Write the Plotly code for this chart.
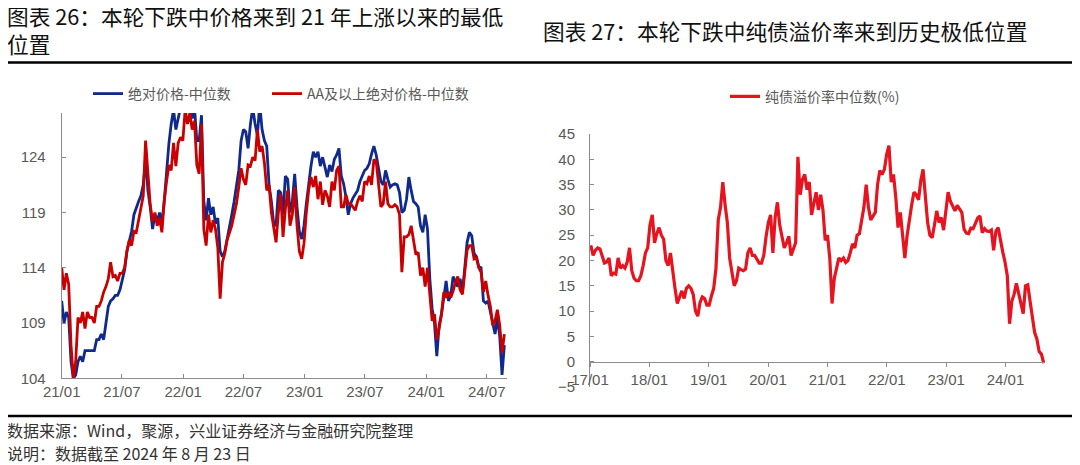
import pandas as pd
import plotly.graph_objects as go

# ---------------- data ----------------
left_dates = pd.date_range("2021-01-01", "2024-08-23", freq="7D")
left_blue_name = "绝对价格-中位数"
left_red_name = "AA及以上绝对价格-中位数"
left_blue = [
    111, 109, 110, 109.5, 105.5, 104, 104.3, 105.5, 106, 105.5,
    106.5, 106.5, 106.5, 106.5, 106.5, 107.5, 107.5, 108, 107.5, 109,
    110.5, 111, 111.2, 111.5, 111.5, 112, 112.8, 113.8, 115.5, 116.5,
    117.3, 118.8, 119.5, 120, 120.5, 121.5, 123.8, 121, 119.5, 117.5,
    118.8, 118.2, 119, 118, 120, 122.8, 125.2, 127, 128.3, 126.5,
    127.5, 128.5, 129, 129.5, 129, 129.5, 127.5, 128.5, 125.5, 125.5,
    127.8, 120, 118.3, 120.3, 118.8, 119.5, 118, 118.5, 115.5, 115,
    115.5, 116.5, 117.8, 118.8, 120, 121.3, 122.8, 125.5, 126.5, 126.3,
    124.8, 127, 128.5, 127, 126, 128.8, 126.5, 125.5, 125, 121.5,
    120, 118, 117.8, 121, 120.8, 118.8, 122.3, 122, 119, 120,
    122.5, 119.5, 117.3, 116.6, 117.8, 119.8, 121.8, 123.2, 124.5, 124,
    124.5, 123.2, 124, 123, 122.2, 123.3, 122.7, 123.8, 124.2, 124.8,
    122.3, 121.6, 120.4, 118.8, 119.8, 120.3, 120.6, 121, 121.8, 122.3,
    122.8, 123, 123.4, 124.3, 125, 124.2, 123, 121.8, 121.5, 122.8,
    122, 121.3, 121.5, 121.6, 121.5, 120.8, 119, 119.2, 120.2, 122.2,
    121, 120, 119.8, 119.5, 117.8, 117.2, 118.8, 117.5, 113, 110.3,
    109, 106, 108.8, 109.8, 111.3, 112.8, 111, 111.5, 113.2, 112.8,
    112.3, 113, 111.8, 114, 116.3, 117.2, 116.9, 115.3, 115, 114.1,
    114, 111, 110.8, 111, 110, 109, 108, 109.5, 107.8, 104.3,
    107,
]
left_red = [
    114, 112, 113.5, 112.5, 107, 104, 105.5, 109.5, 109, 110,
    108.5, 110, 109.5, 109.5, 109, 110.5, 110.5, 111, 111.8, 112.3,
    113, 114.5, 113.2, 113.3, 112.8, 113.5, 113.5, 114, 115.5, 116.5,
    116, 117.3, 117.2, 118.3, 119.5, 120.5, 125.5, 122.5, 119.7, 118.2,
    119, 117.8, 118.5, 117.2, 120, 121.8, 123.3, 122.8, 125.3, 123.2,
    125.3, 125.8, 125.5, 128.3, 127, 128, 126.5, 127.3, 123.3, 122.5,
    127, 117.5, 116, 118.8, 117.2, 118.3, 117.5, 115.8, 111.2, 114.5,
    115.3, 116.5, 117.2, 117.8, 118.8, 119.8, 121.3, 123, 122, 121.5,
    123.3, 123.2, 124, 123.7, 126.5, 124.5, 125, 123.5, 121, 121.5,
    119, 117.5, 116.3, 119, 120.7, 116.8, 119.3, 121, 117.8, 118.8,
    121.3, 117.8, 115.5, 114.8, 116.2, 119, 121, 122.2, 121.3, 122.3,
    120.2, 121.8, 119.7, 121, 120.5, 119.5, 121.8, 121, 122.8, 123.2,
    119.5, 119.5, 120.6, 119.8, 119.8, 119.5, 119.2, 120, 120.5, 120,
    121.8, 121.6, 122.3, 121.5, 123.8, 123.6, 121.5, 119.5, 119.8, 121.8,
    119.8, 119.5, 119.5, 119.7, 119.5, 118.8, 113.6, 116.8, 116.8, 117,
    117.8, 116.5, 115.2, 115.4, 113.3, 114, 112.3, 114, 111.3, 109.2,
    109.8, 107.5, 108.5, 109.8, 111.8, 111.3, 111.8, 111.3, 111.9, 112.7,
    113.2, 112, 111.6, 113.5, 115.6, 116, 116, 114.8, 114.9, 114,
    113.6, 111.8, 112.8, 111.5, 110.5, 108.8, 109.2, 110.2, 108.8, 106.3,
    108,
]
left_tickvals = ["2021-01-01", "2021-07-01", "2022-01-01", "2022-07-01",
                 "2023-01-01", "2023-07-01", "2024-01-01", "2024-07-01"]
left_ticktext = ["21/01", "21/07", "22/01", "22/07", "23/01", "23/07", "24/01", "24/07"]

right_dates = pd.date_range("2017-01-06", "2024-08-23", freq="14D")
right_name = "纯债溢价率中位数(%)"
right_vals = [
    23, 21, 22, 22.5, 22.3, 21, 19.5, 19.7, 20.5, 17,
    17.5, 17.3, 20.5, 18.5, 19, 18.5, 19.7, 22.5, 18, 16.5,
    16, 16, 17, 19, 21.5, 22.5, 27, 29, 23.5, 25.3,
    26.5, 25, 24.2, 20, 19, 21.5, 17.5, 14.5, 11.5, 13,
    14, 12.5, 14.5, 15, 14.5, 13.3, 10, 9, 11.7, 12.8,
    12.5, 11.2, 11.2, 13, 14.5, 18.5, 28, 30.5, 35.5, 31,
    27.5, 20.5, 17.5, 15, 16, 18.5, 18.2, 18, 18.3, 21.5,
    22.5, 21, 21, 20.3, 19.5, 19.5, 21, 24.7, 27.5, 29,
    21.5, 28.5, 31.5, 27, 25, 22.5, 23.5, 24.8, 21, 22.5,
    23.5, 40.5, 33, 36, 37, 34, 35.5, 29, 31, 33.5,
    30, 33, 30, 24, 25, 20.5, 11.5, 16.5, 18.5, 20.5,
    20, 20.5, 19.6, 20, 21.5, 23.3, 22.5, 25, 25.3, 27.7,
    30.5, 35, 30.5, 28, 28.8, 29.5, 35, 37.8, 37, 38,
    41, 42.7, 35.5, 37, 32.5, 26.5, 29.5, 25, 20.5, 25,
    28.5, 31, 33.5, 33, 32, 35.8, 38, 32.5, 27.5, 25,
    24.5, 27, 29.8, 27.5, 28.5, 26, 29.3, 33.5, 31.7, 30.8,
    29.8, 30.9, 30.3, 29.5, 26.2, 25.4, 25.3, 26.4, 26.3, 27.2,
    28.4, 28.8, 25.5, 26.3, 25.8, 25.7, 26, 22, 25.8, 26.5,
    23.7, 21.7, 19.7, 17, 7.5, 12, 13.3, 15.5, 13.5, 11.5,
    9.5, 15, 15.2, 12, 9, 5.8, 4.5, 2, 1.5, -0.3,
]
right_tickvals = ["2017-01-01", "2018-01-01", "2019-01-01", "2020-01-01",
                  "2021-01-01", "2022-01-01", "2023-01-01", "2024-01-01"]
right_ticktext = ["17/01", "18/01", "19/01", "20/01", "21/01", "22/01", "23/01", "24/01"]

title_left = "图表 26：本轮下跌中价格来到 21 年上涨以来的最低<br>位置"
title_right = "图表 27：本轮下跌中纯债溢价率来到历史极低位置"
source_text = "数据来源：Wind，聚源，兴业证券经济与金融研究院整理"
note_text = "说明：数据截至 2024 年 8 月 23 日"

# ---------------- styling ----------------
OFF = 8                     # page body margin of the browser
FW, FH = 1080 - OFF, 465 - OFF
CJK = "Noto Sans CJK SC, sans-serif"
NUM = "Liberation Sans, Arial, sans-serif"
TICK_COLOR = "#595959"
AXIS_COLOR = "#8c8c8c"


def px_x(v):
    return (v - OFF) / FW


def px_y(v):
    return 1 - (v - OFF) / FH


fig = go.Figure()
fig.add_trace(go.Scatter(x=left_dates, y=left_blue, name=left_blue_name, mode="lines",
                         line=dict(color="#0F2A8C", width=2.8), xaxis="x", yaxis="y",
                         legend="legend"))
fig.add_trace(go.Scatter(x=left_dates, y=left_red, name=left_red_name, mode="lines",
                         line=dict(color="#C80000", width=2.8), xaxis="x", yaxis="y",
                         legend="legend3"))
fig.add_trace(go.Scatter(x=right_dates, y=right_vals, name=right_name, mode="lines",
                         line=dict(color="#E6141E", width=3.2), xaxis="x2", yaxis="y2",
                         legend="legend2"))

tickfont = dict(family=NUM, size=15, color=TICK_COLOR)
legfont = dict(family=CJK, size=14, color=TICK_COLOR)
common_axis = dict(showgrid=False, zeroline=False, showline=True, linecolor=AXIS_COLOR,
                   linewidth=1, tickcolor=AXIS_COLOR, tickfont=tickfont, automargin=False)


def legend_at(x, y):
    return dict(orientation="h", x=px_x(x), y=px_y(y), xanchor="left", yanchor="middle",
                font=legfont, bgcolor="rgba(0,0,0,0)", borderwidth=0)


def rule(y_top, y_bottom):
    return dict(type="rect", xref="paper", yref="paper", x0=0, x1=1,
                y0=px_y(y_bottom), y1=px_y(y_top), fillcolor="black",
                line=dict(color="black", width=0.5), layer="above")


fig.update_layout(
    width=FW, height=FH, autosize=False,
    margin=dict(l=0, r=0, t=0, b=0, pad=0),
    paper_bgcolor="white", plot_bgcolor="white",
    xaxis=dict(domain=[px_x(61.7), px_x(506.7)], type="date",
               range=["2021-01-01", "2024-08-30"], anchor="y",
               tickvals=left_tickvals, ticktext=left_ticktext,
               ticks="inside", ticklen=4, **common_axis),
    yaxis=dict(domain=[px_y(378.3), px_y(113)], range=[104, 128], tick0=104, dtick=5,
               anchor="x", ticks="inside", ticklen=4, ticklabelstandoff=12, **common_axis),
    xaxis2=dict(domain=[px_x(590), px_x(1045)], type="date",
                range=["2017-01-01", "2024-08-31"], anchor="free", position=px_y(361.7),
                tickvals=right_tickvals, ticktext=right_ticktext,
                ticks="outside", ticklen=4, **common_axis),
    yaxis2=dict(domain=[px_y(387), px_y(134)], range=[-5, 45], tick0=-5, dtick=5,
                anchor="x2", ticks="inside", ticklen=4, ticklabelstandoff=11, **common_axis),
    # a full-width, invisible axis pair that only carries the bottom separator rule
    xaxis3=dict(domain=[0, 1], range=[0, 1], anchor="y3", visible=False, fixedrange=True),
    yaxis3=dict(domain=[px_y(420), px_y(412)], range=[0, 1], anchor="x3", visible=False,
                fixedrange=True),
    legend=legend_at(88, 94),
    legend3=legend_at(267, 94),
    legend2=legend_at(725, 96.7),
    showlegend=True,
    shapes=[rule(61.5, 63.5), rule(415, 417)],
)

# bottom separator rule (decoration, spans the whole page width)
fig.add_trace(go.Scatter(x=[0, 1], y=[0.5, 0.5], mode="lines", xaxis="x3", yaxis="y3",
                         line=dict(color="black", width=2), showlegend=False,
                         hoverinfo="skip", cliponaxis=False))

fig.add_annotation(text=title_left, xref="paper", yref="paper", x=px_x(6), y=px_y(-1),
                   xanchor="left", yanchor="top", align="left", showarrow=False,
                   borderpad=0, font=dict(family=CJK, size=21.7, color="#111111"))
fig.add_annotation(text=title_right, xref="paper", yref="paper", x=px_x(542), y=px_y(30),
                   xanchor="left", yanchor="middle", align="left", showarrow=False,
                   borderpad=0, font=dict(family=CJK, size=21.7, color="#111111"))
fig.add_annotation(text=source_text, xref="paper", yref="paper", x=px_x(6), y=px_y(430),
                   xanchor="left", yanchor="middle", align="left", showarrow=False,
                   borderpad=0, font=dict(family=CJK, size=16, color="#333333"))
fig.add_annotation(text=note_text, xref="paper", yref="paper", x=px_x(6), y=px_y(453),
                   xanchor="left", yanchor="middle", align="left", showarrow=False,
                   borderpad=0, font=dict(family=CJK, size=16, color="#333333"))

fig.write_html("out.html")
